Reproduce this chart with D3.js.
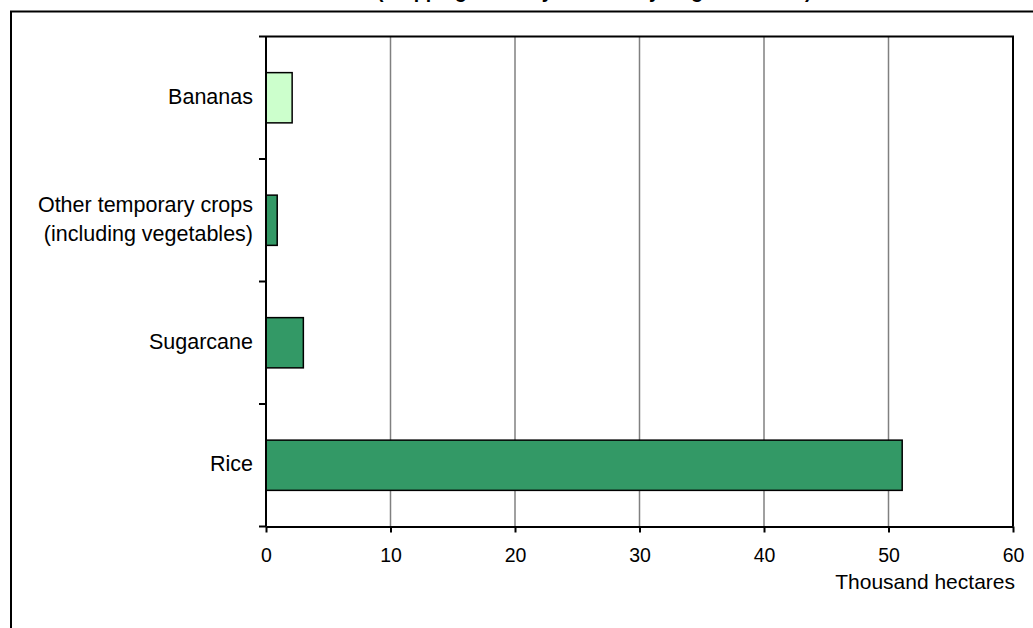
<!DOCTYPE html>
<html>
<head>
<meta charset="utf-8">
<script src="https://cdn.jsdelivr.net/npm/d3@7"></script>
<style>
  html, body { margin: 0; padding: 0; background: #fff; }
  svg { display: block; font-family: "Liberation Sans", Arial, sans-serif; }
</style>
</head>
<body>
<svg id="chart" width="1033" height="628"></svg>
<script>
// Harvested irrigated crop area, thousand hectares
const categories = [
  ["Bananas"],
  ["Other temporary crops", "(including vegetables)"],
  ["Sugarcane"],
  ["Rice"]
];
const values = [2.1, 0.9, 3.0, 51.1];
const fills = ["#CCFFCC", "#339966", "#339966", "#339966"];
const xTicks = [0, 10, 20, 30, 40, 50, 60];
const xTitle = "Thousand hectares";
const chartTitle = "(cropping intensity on actually irrigated: 102%)";

const svg = d3.select("#chart");
const keys = categories.map(c => c.join(" "));

const plot = { left: 266, right: 1013, top: 36.5, bottom: 526.5 };

const x = d3.scaleLinear().domain([0, 60]).range([plot.left, plot.right]);
const y = d3.scaleBand().domain(keys)
  .range([plot.top, plot.bottom])
  .paddingInner(0.59).paddingOuter(0.295);

// outer chart frame (runs off the right and bottom edges)
svg.append("rect")
  .attr("x", 11).attr("y", 11.5)
  .attr("width", 1100).attr("height", 1000)
  .attr("fill", "none").attr("stroke", "#000").attr("stroke-width", 2);

// title line, sitting above the top edge so only its descenders remain
svg.append("text")
  .attr("x", 377).attr("y", -2.5)
  .attr("font-size", 19.5).attr("font-weight", "bold")
  .attr("fill", "#000")
  .text(chartTitle);

// vertical gridlines
svg.append("g")
  .selectAll("line")
  .data(xTicks.filter(t => t > 0 && t < 60))
  .join("line")
  .attr("x1", d => x(d)).attr("x2", d => x(d))
  .attr("y1", plot.top).attr("y2", plot.bottom)
  .attr("stroke", "#808080").attr("stroke-width", 1.5);

// plot-area border (top and right)
svg.append("path")
  .attr("d", `M${plot.left},${plot.top}H${plot.right}V${plot.bottom}`)
  .attr("fill", "none").attr("stroke", "#000").attr("stroke-width", 2);

// bars
svg.append("g")
  .selectAll("rect")
  .data(keys)
  .join("rect")
  .attr("x", x(0))
  .attr("y", d => y(d))
  .attr("width", (d, i) => x(values[i]) - x(0))
  .attr("height", y.bandwidth())
  .attr("fill", (d, i) => fills[i])
  .attr("stroke", "#000").attr("stroke-width", 1.5);

// x axis
const xAxis = d3.axisBottom(x).tickValues(xTicks).tickSize(6).tickSizeOuter(0).tickPadding(16);
const gx = svg.append("g")
  .attr("transform", `translate(0,${plot.bottom})`)
  .call(xAxis);
gx.select(".domain").attr("stroke", "#000").attr("stroke-width", 2);
gx.selectAll(".tick line").attr("stroke", "#000").attr("stroke-width", 2);
gx.selectAll(".tick text")
  .attr("font-size", 19.5).attr("fill", "#000")
  .attr("font-family", "Liberation Sans, Arial, sans-serif");

// y axis with ticks on category boundaries
const yBounds = d3.range(keys.length + 1).map(i => plot.top + i * y.step());
const gy = svg.append("g");
gy.append("line")
  .attr("x1", plot.left).attr("x2", plot.left)
  .attr("y1", plot.top).attr("y2", plot.bottom)
  .attr("stroke", "#000").attr("stroke-width", 2);
gy.selectAll(".ytick")
  .data(yBounds)
  .join("line")
  .attr("class", "ytick")
  .attr("x1", plot.left - 7).attr("x2", plot.left)
  .attr("y1", d => d).attr("y2", d => d)
  .attr("stroke", "#000").attr("stroke-width", 2);

// category labels
const lineH = 29;
gy.selectAll(".ylabel")
  .data(categories)
  .join("text")
  .attr("class", "ylabel")
  .attr("font-size", 21.5)
  .attr("fill", "#000")
  .attr("text-anchor", "end")
  .each(function (lines, i) {
    const cy = y(keys[i]) + y.bandwidth() / 2;
    const t = d3.select(this);
    lines.forEach((ln, j) => {
      t.append("tspan")
        .attr("x", 253)
        .attr("y", cy - 1.5 + (j - (lines.length - 1) / 2) * lineH)
        .attr("dy", "0.35em")
        .text(ln);
    });
  });

// axis title
svg.append("text")
  .attr("x", 1015).attr("y", 582)
  .attr("dy", "0.35em")
  .attr("text-anchor", "end")
  .attr("font-size", 21).attr("fill", "#000")
  .text(xTitle);
</script>
</body>
</html>
